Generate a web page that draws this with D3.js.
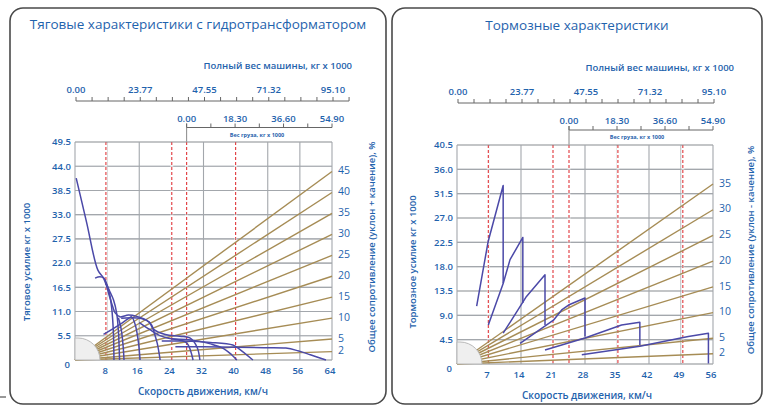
<!DOCTYPE html>
<html>
<head>
<meta charset="utf-8">
<script src="https://cdn.jsdelivr.net/npm/d3@7"></script>
<style>
  body { margin: 0; background: #fff; }
  svg { display: block; font-family: "Open Sans", "Noto Sans", sans-serif; }
</style>
</head>
<body>
<svg id="chart" width="767" height="405"></svg>
<script>
// ---- data ----
var weightLabels = ["0.00", "23.77", "47.55", "71.32", "95.10"];
var loadLabels = ["0.00", "18.30", "36.60", "54.90"];
var grossWeight = 95.1;   // t, full machine weight (top scale)
var loadMax = 54.9;       // t, payload (second scale)

var tractionSpeedTicks = [0, 8, 16, 24, 32, 40, 48, 56, 64];
var tractionForceTicks = [0, 5.5, 11, 16.5, 22, 27.5, 33, 38.5, 44, 49.5];
var tractionGrades = [45, 40, 35, 30, 25, 20, 15, 10, 5, 2];
var tractionMarks = [7.7, 24.1, 27.8, 40.0];   // red dashed speeds

var brakeSpeedTicks = [0, 7, 14, 21, 28, 35, 42, 49, 56];
var brakeForceTicks = [0, 4.5, 9, 13.5, 18, 22.5, 27, 31.5, 36, 40.5];
var brakeGrades = [35, 30, 25, 20, 15, 10, 5, 2];
var brakeMarks = [6.85, 21, 24.5, 35.2, 49.4];

// rimpull curves [speed km/h, force t]
var tractionCurves = [
  [[0.3,41.3],[2.9,31.2],[5.7,20.4],[7.1,18.6],[7.9,16.7],[8.6,14.4],[9.4,12.1],[10,10.7],[11.2,9.8],[13.3,10.2],[15.4,9.9],[17.9,9.0],[19.1,7.9],[19.7,6.3],[20.5,3.7],[21.2,0]],
  [[5,18.6],[6.2,18.9],[7.2,18.6],[8,17],[8.6,15.1],[9.1,12.1],[9.4,9],[9.6,5.2],[9.7,0]],
  [[7.7,17.4],[8.7,15.5],[9.6,13.6],[10.4,10.5],[10.8,6.7],[11.1,0]],
  [[10.8,9.6],[11.5,7],[12,3],[12.2,0]],
  [[7.1,5.8],[9.1,6.9],[11.2,8.1],[13.3,9.4],[14.1,9.8],[15,8],[15.8,4],[16.2,0]],
  [[11.5,9.5],[14,9.6],[16.5,9.4],[18.5,8.6],[19.5,7],[22.5,5.8],[26.1,5.4],[28.6,5.0],[30.4,2.9],[31.1,0]],
  [[16,8.5],[18.5,7],[21,5.6],[24,4.8],[26.1,4.5],[27.9,3.8],[29.4,0]],
  [[21.6,4.3],[27,4.3],[33.7,4.0],[39.3,3.4],[40.6,2.7],[44.3,0]],
  [[24,4.8],[30,4.4],[34,3.6],[37,2.6],[39,1.2],[40.3,0]],
  [[25,3.0],[32,3.0],[40,2.9],[47,2.8],[52.5,2.7],[55.5,2.1],[58.6,1.2],[62.5,0]]
];

// retarder curves [speed km/h, force t]
var brakeCurves = [
  [[4.3,10.7],[6.8,22.6],[10.1,33.0],[10.1,14.9]],
  [[6.85,7.2],[10.1,14.9],[11.6,19.3],[14.4,23.4],[14.4,11.3]],
  [[10.1,5.7],[15.2,12.5],[19.25,16.5],[19.25,7.2]],
  [[13.8,3.8],[21.1,8.1],[22.9,10.0],[24.4,10.9],[28.0,12.2],[28.0,5.1]],
  [[19.25,2.6],[28.0,4.8],[36.0,7.2],[40.0,7.7],[40.0,3.5]],
  [[27.3,1.7],[40.0,3.3],[50.6,5.1],[55.0,5.7],[55.0,0.1]]
];

var BLUE = "#1f63ad", GRID = "#a3a7ac", RED = "#e0363a", BROWN = "#a68c55", CURVE = "#4b49a8";

var svg = d3.select("#chart");
svg.append("line").attr("x1", 0).attr("x2", 6).attr("y1", 397).attr("y2", 397)
  .attr("stroke", "#333").attr("stroke-width", 1);

function fmt(v) { return v.toFixed(1); }

function drawPanel(cfg) {
  var g = svg.append("g");

  g.append("rect")
    .attr("x", cfg.frame[0]).attr("y", cfg.frame[1])
    .attr("width", cfg.frame[2]).attr("height", cfg.frame[3])
    .attr("rx", 13).attr("fill", "#fff")
    .attr("stroke", "#4a4a4a").attr("stroke-width", 1.6);

  g.append("text").attr("x", cfg.titleX).attr("y", cfg.titleY)
    .attr("text-anchor", "middle").attr("fill", BLUE)
    .style("font-size", "13.5px").text(cfg.title);

  var x = d3.scaleLinear().domain([0, cfg.xMax]).range([cfg.left, cfg.right]);
  var y = d3.scaleLinear().domain([0, cfg.yMax]).range([cfg.bottom, cfg.top]);

  // --- gross weight scale on top
  g.append("text").attr("x", cfg.wTitleX).attr("y", cfg.wTitleY)
    .attr("text-anchor", "end").attr("fill", BLUE)
    .style("font-size", "9.5px").style("font-weight", 600)
    .text("Полный вес машины, кг х 1000");

  var w = d3.scaleLinear().domain([0, grossWeight]).range([cfg.left + 1, cfg.right + 1]);
  var wStep = grossWeight / 16;
  var wTicks = d3.range(cfg.wTickCount).map(function (i) { return i * wStep; });
  g.append("line").attr("x1", w(0)).attr("x2", w(wTicks[wTicks.length - 1]))
    .attr("y1", cfg.wAxisY).attr("y2", cfg.wAxisY).attr("stroke", "#666");
  g.selectAll(".wt").data(wTicks).enter().append("line")
    .attr("x1", function (d) { return w(d); }).attr("x2", function (d) { return w(d); })
    .attr("y1", cfg.wAxisY).attr("y2", cfg.wAxisY - 4).attr("stroke", "#666");
  g.selectAll(".wl").data(weightLabels).enter().append("text")
    .attr("x", function (d) { return w(+d); }).attr("y", cfg.wAxisY - 8)
    .attr("text-anchor", "middle").attr("fill", BLUE)
    .style("font-size", "9.5px").style("font-weight", 600)
    .text(function (d) { return d; });

  // --- payload scale
  var l = d3.scaleLinear().domain([0, loadMax]).range([x(cfg.loadZero), cfg.right]);
  var lTicks = d3.range(7).map(function (i) { return i * loadMax / 6; });
  g.append("line").attr("x1", l(0)).attr("x2", l(loadMax))
    .attr("y1", cfg.lAxisY).attr("y2", cfg.lAxisY).attr("stroke", "#666");
  g.append("line").attr("x1", l(0)).attr("x2", l(0))
    .attr("y1", cfg.lAxisY - 4).attr("y2", cfg.top).attr("stroke", "#888");
  g.selectAll(".lt").data(lTicks).enter().append("line")
    .attr("x1", function (d) { return l(d); }).attr("x2", function (d) { return l(d); })
    .attr("y1", cfg.lAxisY).attr("y2", cfg.lAxisY - 4).attr("stroke", "#666");
  g.selectAll(".ll").data(loadLabels).enter().append("text")
    .attr("x", function (d) { return l(+d); }).attr("y", cfg.lAxisY - 6)
    .attr("text-anchor", "middle").attr("fill", BLUE)
    .style("font-size", "9.5px").style("font-weight", 600)
    .text(function (d) { return d; });
  g.append("text").attr("x", cfg.lTitleX).attr("y", cfg.lAxisY + 9)
    .attr("text-anchor", "middle").attr("fill", BLUE)
    .style("font-size", "5.5px").style("font-weight", 700)
    .text("Вес груза, кг х 1000");

  // --- grid
  g.selectAll(".vg").data(cfg.xTicks).enter().append("line")
    .attr("x1", function (d) { return x(d); }).attr("x2", function (d) { return x(d); })
    .attr("y1", cfg.top).attr("y2", cfg.bottom)
    .attr("stroke", GRID).attr("stroke-width", 1.1);
  g.selectAll(".hg").data(cfg.yTicks).enter().append("line")
    .attr("x1", cfg.left).attr("x2", cfg.right)
    .attr("y1", function (d) { return y(d); }).attr("y2", function (d) { return y(d); })
    .attr("stroke", GRID).attr("stroke-width", 1.1);

  // red dashed speed marks, on a white strip that hides the grid beneath
  g.selectAll(".rw").data(cfg.marks).enter().append("line")
    .attr("x1", function (d) { return x(d); }).attr("x2", function (d) { return x(d); })
    .attr("y1", cfg.top + 1).attr("y2", cfg.bottom - 1)
    .attr("stroke", "#fff").attr("stroke-width", 3);
  g.selectAll(".rd").data(cfg.marks).enter().append("line")
    .attr("x1", function (d) { return x(d); }).attr("x2", function (d) { return x(d); })
    .attr("y1", cfg.top).attr("y2", cfg.bottom)
    .attr("stroke", RED).attr("stroke-width", 1.1).attr("stroke-dasharray", "3,2");
  g.selectAll(".hg2").data(cfg.yTicks).enter().append("line")
    .attr("x1", cfg.left).attr("x2", cfg.right)
    .attr("y1", function (d) { return y(d); }).attr("y2", function (d) { return y(d); })
    .attr("stroke", GRID).attr("stroke-width", 1.1).attr("stroke-opacity", 0.6);

  // --- grade lines from origin to right edge
  g.selectAll(".gr").data(cfg.grades).enter().append("line")
    .attr("x1", x(0)).attr("y1", y(0))
    .attr("x2", x(cfg.xMax)).attr("y2", function (d) { return y(d / 100 * grossWeight); })
    .attr("stroke", BROWN).attr("stroke-width", 1.4);
  g.selectAll(".gl").data(cfg.grades).enter().append("text")
    .attr("x", cfg.right + 6).attr("y", function (d) { return y(d / 100 * grossWeight) - 1; })
    .attr("dy", "0.35em").attr("fill", BLUE)
    .style("font-size", "10.5px")
    .text(function (d) { return d; });

  // grey hub covering the origin
  var x0 = x(0), y0 = y(0), r = 22;
  g.append("path")
    .attr("d", "M" + x0 + "," + y0 + "L" + x0 + "," + (y0 - r) + "L" + (x0 + 3) + "," + (y0 - r) +
      "A" + r + "," + r + " 0 0 1 " + (x0 + 3 + r) + "," + y0 + "Z")
    .attr("fill", "#efefef").attr("stroke", "#b9b9b9").attr("stroke-width", 1);

  // --- curves
  var line = d3.line()
    .x(function (d) { return x(d[0]); })
    .y(function (d) { return y(d[1]); })
    .curve(cfg.smooth ? d3.curveCatmullRom.alpha(0.5) : d3.curveLinear);
  g.selectAll(".cv").data(cfg.curves).enter().append("path")
    .attr("d", line).attr("fill", "none")
    .attr("stroke", CURVE).attr("stroke-width", 1.5).attr("stroke-linejoin", "round");

  // --- tick labels
  g.selectAll(".yl").data(cfg.yTicks.slice(1)).enter().append("text")
    .attr("x", cfg.left - 4).attr("y", function (d) { return y(d); })
    .attr("dy", "0.35em").attr("text-anchor", "end").attr("fill", BLUE)
    .style("font-size", "9.5px").style("font-weight", 600)
    .text(fmt);
  g.append("text").attr("x", cfg.left - 5).attr("y", cfg.bottom + 8)
    .attr("text-anchor", "end").attr("fill", BLUE)
    .style("font-size", "9.5px").style("font-weight", 600).text("0");
  g.selectAll(".xl").data(cfg.xTicks.slice(1)).enter().append("text")
    .attr("x", function (d) { return x(d) - 2; }).attr("y", cfg.bottom + 14)
    .attr("text-anchor", "middle").attr("fill", BLUE)
    .style("font-size", "9.5px").style("font-weight", 600)
    .text(function (d) { return d; });

  // --- axis titles
  g.append("text").attr("x", cfg.xTitleX).attr("y", cfg.bottom + 35)
    .attr("text-anchor", "middle").attr("fill", BLUE)
    .style("font-size", "10px").style("font-weight", 600)
    .text("Скорость движения, км/ч");
  g.append("text")
    .attr("transform", "translate(" + cfg.yTitleX + "," + cfg.yTitleY + ") rotate(-90)")
    .attr("text-anchor", "middle").attr("fill", BLUE)
    .style("font-size", "9.5px").style("font-weight", 600)
    .text(cfg.yTitle);
  g.append("text")
    .attr("transform", "translate(" + cfg.rTitleX + "," + cfg.rTitleY + ") rotate(-90)")
    .attr("text-anchor", "middle").attr("fill", BLUE)
    .style("font-size", "9.5px").style("font-weight", 600)
    .text(cfg.rTitle);
}

drawPanel({
  frame: [10, 8, 376, 396],
  title: "Тяговые характеристики с гидротрансформатором", titleX: 198, titleY: 29,
  wTitleX: 352, wTitleY: 69, wAxisY: 101, wTickCount: 18,
  lAxisY: 127.5, lTitleX: 257,
  left: 75, right: 332, top: 142, bottom: 360,
  xMax: 64, yMax: 49.5,
  xTicks: tractionSpeedTicks, yTicks: tractionForceTicks,
  grades: tractionGrades, marks: tractionMarks, loadZero: 27.8,
  curves: tractionCurves, smooth: true,
  xTitleX: 203, yTitleX: 30, yTitleY: 262, yTitle: "Тяговое усилие  кг х 1000",
  rTitleX: 375, rTitleY: 247, rTitle: "Общее сопротивление (уклон + качение), %"
});

drawPanel({
  frame: [392, 8, 370, 396],
  title: "Тормозные характеристики", titleX: 577, titleY: 30,
  wTitleX: 734, wTitleY: 71, wAxisY: 103, wTickCount: 17,
  lAxisY: 130, lTitleX: 637,
  left: 457, right: 713, top: 145, bottom: 364,
  xMax: 56, yMax: 40.5,
  xTicks: brakeSpeedTicks, yTicks: brakeForceTicks,
  grades: brakeGrades, marks: brakeMarks, loadZero: 24.5,
  curves: brakeCurves, smooth: false,
  xTitleX: 587, yTitleX: 416, yTitleY: 262, yTitle: "Тормозное  усилие кг х 1000",
  rTitleX: 754, rTitleY: 250, rTitle: "Общее сопротивление (уклон - качение), %"
});
</script>
</body>
</html>
